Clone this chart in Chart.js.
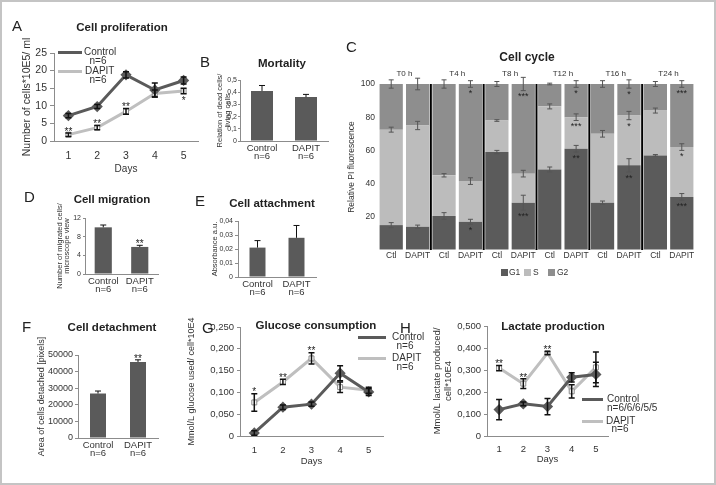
<!DOCTYPE html>
<html>
<head>
<meta charset="utf-8">
<title>DAPIT cell assays</title>
<script src="https://cdn.jsdelivr.net/npm/chart.js@4.4.1/dist/chart.umd.min.js"></script>
<style>
    body { margin: 0; background: #fff; }
    #figure {
        position: relative; width: 716px; height: 485px; overflow: hidden;
        font-family: "Liberation Sans", Arial, sans-serif; color: #222;
    }
    #frame { position: absolute; left: 0; top: 0; width: 716px; height: 485px; box-sizing: border-box; border: 2px solid #c4c4c4; }
    canvas { position: absolute; z-index: 1; }
    .letter, .title, .leg, .sw, .box { z-index: 2; }
    .letter { position: absolute; font-size: 15px; line-height: 1; }
    .title { position: absolute; font-size: 11.5px; font-weight: bold; transform: translate(-50%, -50%); white-space: nowrap; }
    .leg { position: absolute; font-size: 10px; color: #333; transform: translateY(-50%); white-space: nowrap; line-height: 1; }
    .leg.c { transform: translate(-50%, -50%); }
    .sw { position: absolute; height: 3px; }
    .box { position: absolute; width: 7px; height: 7px; }
    .small { font-size: 8.5px; }
</style>
</head>
<body>
<div id="figure">
    <div id="frame"></div>

    <div class="letter" style="left:12px;top:18px">A</div>
    <div class="title" style="left:122px;top:27px">Cell proliferation</div>
    <div class="sw" style="left:58px;top:51px;width:24px;background:#5a5a5a"></div>
    <div class="leg" style="left:84px;top:52px">Control</div>
    <div class="leg c" style="left:98px;top:61px">n=6</div>
    <div class="sw" style="left:58px;top:70px;width:24px;background:#bfbfbf"></div>
    <div class="leg" style="left:85px;top:71px">DAPIT</div>
    <div class="leg c" style="left:98px;top:80px">n=6</div>

    <div class="letter" style="left:200px;top:54px">B</div>
    <div class="title" style="left:282px;top:63px">Mortality</div>

    <div class="letter" style="left:346px;top:39px">C</div>
    <div class="title" style="left:527px;top:57px;font-size:12px">Cell cycle</div>
    <div class="box" style="left:501px;top:269px;background:#5b5b5b"></div>
    <div class="leg small" style="left:509px;top:272px">G1</div>
    <div class="box" style="left:524px;top:269px;background:#bcbcbc"></div>
    <div class="leg small" style="left:533px;top:272px">S</div>
    <div class="box" style="left:548px;top:269px;background:#8e8e8e"></div>
    <div class="leg small" style="left:557px;top:272px">G2</div>

    <div class="letter" style="left:24px;top:189px">D</div>
    <div class="title" style="left:112px;top:199px">Cell migration</div>

    <div class="letter" style="left:195px;top:193px">E</div>
    <div class="title" style="left:272px;top:203px">Cell attachment</div>

    <div class="letter" style="left:22px;top:319px">F</div>
    <div class="title" style="left:112px;top:327px">Cell detachment</div>

    <div class="letter" style="left:202px;top:320px">G</div>
    <div class="title" style="left:316px;top:325px">Glucose consumption</div>
    <div class="sw" style="left:358px;top:336px;width:28px;background:#5a5a5a"></div>
    <div class="leg" style="left:392px;top:337px">Control</div>
    <div class="leg c" style="left:405px;top:346px">n=6</div>
    <div class="sw" style="left:358px;top:357px;width:28px;background:#bfbfbf"></div>
    <div class="leg" style="left:392px;top:358px">DAPIT</div>
    <div class="leg c" style="left:405px;top:367px">n=6</div>

    <div class="letter" style="left:400px;top:320px">H</div>
    <div class="title" style="left:553px;top:326px">Lactate production</div>
    <div class="sw" style="left:582px;top:398px;width:21px;background:#5a5a5a"></div>
    <div class="leg" style="left:607px;top:399px">Control</div>
    <div class="leg" style="left:607px;top:408px">n=6/6/6/5/5</div>
    <div class="sw" style="left:582px;top:420px;width:21px;background:#bfbfbf"></div>
    <div class="leg" style="left:606px;top:421px">DAPIT</div>
    <div class="leg c" style="left:620px;top:429px">n=6</div>
</div>

<script>
// ---- data ----
const days = ['1', '2', '3', '4', '5'];
const groups = [['Control', 'n=6'], ['DAPIT', 'n=6']];

// A: cell proliferation (cells*10E5/ml)
const prolifControl = [7.2, 9.8, 18.8, 14.5, 17.2];
const prolifControlErr = [0.6, 0.6, 0.9, 2.0, 1.0];
const prolifDapit = [1.8, 3.8, 8.4, 13.5, 14.2];
const prolifDapitErr = [0.5, 0.6, 0.8, 1.0, 0.8];
const prolifStars = ['**', '**', '**', '', '*'];

// B: mortality
const mortality = [0.41, 0.36];
const mortalityErr = [0.045, 0.022];

// C: cell cycle (% of PI fluorescence)
const cycleBars = ['Ctl', 'DAPIT', 'Ctl', 'DAPIT', 'Ctl', 'DAPIT', 'Ctl', 'DAPIT', 'Ctl', 'DAPIT', 'Ctl', 'DAPIT'];
const cycleTimes = ['T0 h', 'T4 h', 'T8 h', 'T12 h', 'T16 h', 'T24 h'];
const cycleG1 = [15, 14, 20.5, 17, 59, 28.5, 48.5, 61, 28.5, 51, 57, 32];
const cycleS = [57.5, 61, 24.5, 24.5, 19, 17.5, 38, 19, 41.5, 30, 27, 30];
const cycleG2 = [27.5, 25, 55, 58.5, 22, 54, 13.5, 20, 30, 19, 16, 38];
const cycleG1Err = [1.5, 1, 2, 1.5, 1, 4.5, 1.5, 2, 1, 4, 0.5, 2];
const cycleSErr = [1.5, 2.5, 1, 2, 0.5, 2, 1.5, 2, 2, 2.5, 1.5, 2];
const cycleG2Err = [2.5, 3.5, 2.5, 2, 1.5, 4, 0.5, 2, 2, 2.5, 1.5, 2];
const cycleG1Stars = ['', '', '', '*', '', '***', '', '**', '', '**', '', '***'];
const cycleSStars = ['', '', '', '', '', '', '', '***', '', '*', '', '*'];
const cycleG2Stars = ['', '', '', '*', '', '***', '', '*', '', '*', '', '***'];

// D: migration
const migration = [10.0, 5.8];
const migrationErr = [0.5, 0.35];
const migrationStars = ['', '**'];

// E: attachment
const attachment = [0.021, 0.028];
const attachmentErr = [0.005, 0.0088];

// F: detachment (pixels)
const detachment = [26800, 45800];
const detachmentErr = [1500, 1300];
const detachmentStars = ['', '**'];

// G: glucose consumption
const glucoseControl = [0.007, 0.066, 0.073, 0.144, 0.101];
const glucoseControlErr = [0.005, 0.005, 0.005, 0.017, 0.008];
const glucoseDapit = [0.077, 0.124, 0.178, 0.112, 0.105];
const glucoseDapitErr = [0.02, 0.006, 0.013, 0.012, 0.007];
const glucoseStars = ['*', '**', '**', '', ''];

// H: lactate production
const lactateControl = [0.120, 0.146, 0.134, 0.267, 0.280];
const lactateControlErr = [0.046, 0.008, 0.037, 0.021, 0.055];
const lactateDapit = [0.309, 0.238, 0.377, 0.203, 0.312];
const lactateDapitErr = [0.012, 0.022, 0.007, 0.03, 0.07];
const lactateStars = ['**', '**', '**', '', ''];

// ---- styling ----
Chart.defaults.font.family = '"Liberation Sans", Arial, sans-serif';
Chart.defaults.color = '#333';
Chart.defaults.animation = false;

const DARK = '#5a5a5a';
const LIGHT = '#bfbfbf';
const AXIS = '#8c8c8c';

// Error bars drawn from dataset.errors around each element
const errorBars = {
    id: 'errorBars',
    afterDatasetsDraw(chart) {
        const ctx = chart.ctx;
        const y = chart.scales.y;
        chart.data.datasets.forEach((ds, i) => {
            if (!ds.errors) return;
            const meta = chart.getDatasetMeta(i);
            ctx.save();
            ctx.strokeStyle = ds.errorColor || '#111';
            ctx.lineWidth = ds.errorWidth || 1;
            const cap = ds.errorCap || 3;
            meta.data.forEach((el, j) => {
                const err = ds.errors[j];
                if (!err) return;
                const h = Math.abs(y.getPixelForValue(0) - y.getPixelForValue(err));
                const top = el.y - h;
                const bottom = ds.errorUpOnly ? el.y : el.y + h;
                ctx.beginPath();
                ctx.moveTo(el.x, top);
                ctx.lineTo(el.x, bottom);
                ctx.moveTo(el.x - cap, top);
                ctx.lineTo(el.x + cap, top);
                if (!ds.errorUpOnly) {
                    ctx.moveTo(el.x - cap, bottom);
                    ctx.lineTo(el.x + cap, bottom);
                }
                ctx.stroke();
            });
            ctx.restore();
        });
    }
};

// Significance asterisks above or below the error bar
const sigStars = {
    id: 'sigStars',
    afterDatasetsDraw(chart) {
        const ctx = chart.ctx;
        const y = chart.scales.y;
        chart.data.datasets.forEach((ds, i) => {
            if (!ds.stars) return;
            const meta = chart.getDatasetMeta(i);
            const size = ds.starSize || 10;
            ctx.save();
            ctx.fillStyle = ds.starColor || '#222';
            ctx.font = size + 'px "Liberation Sans", Arial, sans-serif';
            ctx.textAlign = 'center';
            ctx.textBaseline = 'alphabetic';
            meta.data.forEach((el, j) => {
                const s = ds.stars[j];
                if (!s) return;
                const err = ds.errors ? ds.errors[j] : 0;
                const h = Math.abs(y.getPixelForValue(0) - y.getPixelForValue(err));
                const pos = Array.isArray(ds.starPos) ? ds.starPos[j] : ds.starPos;
                const centre = pos === 'below' ? el.y + h + size * 0.3 + 1 : el.y - h - size * 0.3 - 1;
                ctx.fillText(s, el.x, centre + size * 0.57);
            });
            ctx.restore();
        });
    }
};

// Black separators and time labels for the cell cycle panel
const cycleDecor = {
    id: 'cycleDecor',
    afterDatasetsDraw(chart) {
        const { ctx, chartArea, scales: { x, y } } = chart;
        ctx.save();
        ctx.strokeStyle = '#000';
        ctx.lineWidth = 2;
        for (let i = 2; i < cycleBars.length; i += 2) {
            const px = (x.getPixelForValue(i - 1) + x.getPixelForValue(i)) / 2;
            ctx.beginPath();
            ctx.moveTo(px, y.getPixelForValue(100));
            ctx.lineTo(px, y.getPixelForValue(0));
            ctx.stroke();
        }
        ctx.fillStyle = '#333';
        ctx.font = '8px "Liberation Sans", Arial, sans-serif';
        ctx.textAlign = 'center';
        ctx.textBaseline = 'middle';
        cycleTimes.forEach((t, k) => {
            const px = (x.getPixelForValue(2 * k) + x.getPixelForValue(2 * k + 1)) / 2;
            ctx.fillText(t, px, chartArea.top - 10);
        });
        ctx.restore();
    }
};

// ---- helpers ----
function addCanvas(box) {
    const c = document.createElement('canvas');
    c.width = box.w;
    c.height = box.h;
    c.style.left = box.x + 'px';
    c.style.top = box.y + 'px';
    document.getElementById('figure').appendChild(c);
    return c;
}

// padding and axis sizes so the plot area lands where it should
function fitArea(box, area) {
    return {
        padding: { left: 0, top: area.top - box.y, right: box.x + box.w - area.right, bottom: 0 },
        yWidth: area.left - box.x,
        xHeight: box.y + box.h - area.bottom
    };
}

function valueAxis(width, o) {
    return {
        min: 0, max: o.max, stacked: !!o.stacked,
        afterFit: (scale) => { scale.width = width; },
        border: { display: o.line !== false, color: AXIS, width: 1 },
        grid: { display: true, drawOnChartArea: false, drawTicks: !!o.tick, tickLength: o.tick || 0, color: AXIS },
        ticks: { stepSize: o.step, padding: o.pad, font: { size: o.size }, color: '#333', callback: o.format },
        title: {
            display: true, text: o.title, color: '#333',
            font: { size: o.titleSize, lineHeight: o.titleLh || 1.2 },
            padding: { top: o.titlePad, bottom: 0 }
        }
    };
}

function categoryAxis(height, o) {
    return {
        offset: true, stacked: !!o.stacked,
        afterFit: (scale) => { scale.height = height; },
        border: { display: o.line !== false, color: AXIS, width: 1 },
        grid: { display: false, drawTicks: false },
        ticks: {
            padding: o.pad, color: '#333', autoSkip: false, maxRotation: 0, minRotation: 0,
            font: { size: o.size, lineHeight: o.lineHeight || 1.2 }
        },
        title: o.title
            ? { display: true, text: o.title, color: '#333', font: { size: o.titleSize }, padding: { top: 0, bottom: o.titlePad } }
            : { display: false }
    };
}

const comma = (digits) => (v) => v === 0 ? '0' : v.toFixed(digits).replace('.', ',');

function lineDatasets(ctrl, ctrlErr, dapit, dapitErr, stars, starPos) {
    return [
        {
            label: 'Control', data: ctrl, errors: ctrlErr,
            borderColor: DARK, borderWidth: 3, pointStyle: 'rectRot', pointRadius: 3.5,
            pointBackgroundColor: DARK, pointBorderColor: DARK, errorWidth: 1.5
        },
        {
            label: 'DAPIT', data: dapit, errors: dapitErr, stars: stars, starPos: starPos,
            borderColor: LIGHT, borderWidth: 3, pointStyle: 'rect', pointRadius: 3.5,
            pointBackgroundColor: '#fff', pointBorderColor: '#8a8a8a', pointBorderWidth: 1, errorWidth: 1.5
        }
    ];
}

function lineChart(box, area, datasets, y, x) {
    const f = fitArea(box, area);
    return new Chart(addCanvas(box), {
        type: 'line',
        data: { labels: days, datasets: datasets },
        options: {
            responsive: false,
            layout: { padding: f.padding },
            plugins: { legend: { display: false }, tooltip: { enabled: false } },
            scales: { x: categoryAxis(f.xHeight, x), y: valueAxis(f.yWidth, y) }
        },
        plugins: [errorBars, sigStars]
    });
}

function barChart(box, area, values, errors, stars, barPct, y) {
    const f = fitArea(box, area);
    return new Chart(addCanvas(box), {
        type: 'bar',
        data: {
            labels: groups,
            datasets: [{
                data: values, errors: errors, stars: stars, starPos: 'above',
                backgroundColor: DARK, barPercentage: barPct, categoryPercentage: 1,
                errorUpOnly: true, errorWidth: 1, errorCap: 3
            }]
        },
        options: {
            responsive: false,
            layout: { padding: f.padding },
            plugins: { legend: { display: false }, tooltip: { enabled: false } },
            scales: {
                x: categoryAxis(f.xHeight, { size: 9.5, lineHeight: 0.85, pad: 3 }),
                y: valueAxis(f.yWidth, y)
            }
        },
        plugins: [errorBars, sigStars]
    });
}

// ---- panels ----

// A
lineChart(
    { x: 0, y: 15, w: 205, h: 165 }, { left: 54, top: 53, right: 198, bottom: 141 },
    lineDatasets(prolifControl, prolifControlErr, prolifDapit, prolifDapitErr, prolifStars,
        ['above', 'above', 'above', 'above', 'below']),
    { max: 25, step: 5, size: 10.5, tick: 4, pad: 3, title: 'Number of cells*10E5/ ml', titleSize: 10.5, titlePad: 20.7 },
    { size: 10.5, pad: 8.7, title: 'Days', titleSize: 10, titlePad: 5 }
);

// B
barChart(
    { x: 190, y: 70, w: 145, h: 100 }, { left: 240, top: 80, right: 328, bottom: 141 },
    mortality, mortalityErr, null, 0.5,
    { max: 0.5, step: 0.1, size: 7, tick: 2, pad: 1, format: comma(1),
      title: ['Relation of dead cells/', 'living cells'], titleSize: 7.5, titleLh: 1, titlePad: 26.2 }
);

// C
(function () {
    const box = { x: 340, y: 62, w: 360, h: 200 };
    const f = fitArea(box, { left: 378, top: 84, right: 695, bottom: 250 });
    const bar = { stack: 'cycle', barPercentage: 0.88, categoryPercentage: 1, starPos: 'below', starSize: 9,
        errorColor: '#555', errorWidth: 1, errorCap: 2.5 };
    new Chart(addCanvas(box), {
        type: 'bar',
        data: {
            labels: cycleBars,
            datasets: [
                Object.assign({ label: 'G1', data: cycleG1, errors: cycleG1Err, stars: cycleG1Stars, backgroundColor: '#5b5b5b' }, bar),
                Object.assign({ label: 'S', data: cycleS, errors: cycleSErr, stars: cycleSStars, backgroundColor: '#bcbcbc' }, bar),
                Object.assign({ label: 'G2', data: cycleG2, errors: cycleG2Err, stars: cycleG2Stars, backgroundColor: '#8e8e8e' }, bar)
            ]
        },
        options: {
            responsive: false,
            layout: { padding: f.padding },
            plugins: { legend: { display: false }, tooltip: { enabled: false } },
            scales: {
                x: categoryAxis(f.xHeight, { stacked: true, line: false, size: 8.5, pad: 1 }),
                y: valueAxis(f.yWidth, { stacked: true, line: false, max: 100, step: 20, size: 8.5, pad: 3,
                    format: (v) => v === 0 ? '' : v,
                    title: 'Relative PI fluorescence', titleSize: 8.5, titlePad: 6.9 })
            }
        },
        plugins: [cycleDecor, errorBars, sigStars]
    });
})();

// D
barChart(
    { x: 30, y: 190, w: 135, h: 110 }, { left: 85, top: 218, right: 158, bottom: 274 },
    migration, migrationErr, migrationStars, 0.47,
    { max: 12, step: 2, size: 7, tick: 2, pad: 2,
      title: ['Number of migrated cells/', 'microscope view'], titleSize: 7.5, titleLh: 1, titlePad: 26 }
);

// E
barChart(
    { x: 195, y: 208, w: 125, h: 92 }, { left: 238, top: 221, right: 316, bottom: 277 },
    attachment, attachmentErr, null, 0.41,
    { max: 0.04, step: 0.01, size: 7, tick: 3, pad: 2, format: comma(2),
      title: 'Absorbance a.u.', titleSize: 7.5, titleLh: 1, titlePad: 16 }
);

// F
barChart(
    { x: 25, y: 300, w: 140, h: 165 }, { left: 78, top: 355, right: 158, bottom: 438 },
    detachment, detachmentErr, detachmentStars, 0.4,
    { max: 50000, step: 10000, size: 9, tick: 3, pad: 2, format: (v) => String(v),
      title: 'Area of cells detached [pixels]', titleSize: 9, titlePad: 11.6 }
);

// G
lineChart(
    { x: 180, y: 290, w: 210, h: 185 }, { left: 240, top: 327, right: 386, bottom: 436 },
    lineDatasets(glucoseControl, glucoseControlErr, glucoseDapit, glucoseDapitErr, glucoseStars, 'above'),
    { max: 0.25, step: 0.05, size: 9.5, tick: 3, pad: 3, format: comma(3),
      title: 'Mmol/L glucose used/ cell*10E4', titleSize: 9, titlePad: 6.6 },
    { size: 9.5, pad: 8.3, title: 'Days', titleSize: 9.5, titlePad: 7.5 }
);

// H
lineChart(
    { x: 430, y: 290, w: 185, h: 185 }, { left: 487, top: 326, right: 608, bottom: 436 },
    lineDatasets(lactateControl, lactateControlErr, lactateDapit, lactateDapitErr, lactateStars, 'above'),
    { max: 0.5, step: 0.1, size: 9.5, tick: 3, pad: 3, format: comma(3),
      title: ['Mmol/L lactate produced/', 'cell*10E4'], titleSize: 9.5, titleLh: 1.2, titlePad: 1.3 },
    { size: 9.5, pad: 7.3, title: 'Days', titleSize: 9.5, titlePad: 9.7 }
);
</script>
</body>
</html>
